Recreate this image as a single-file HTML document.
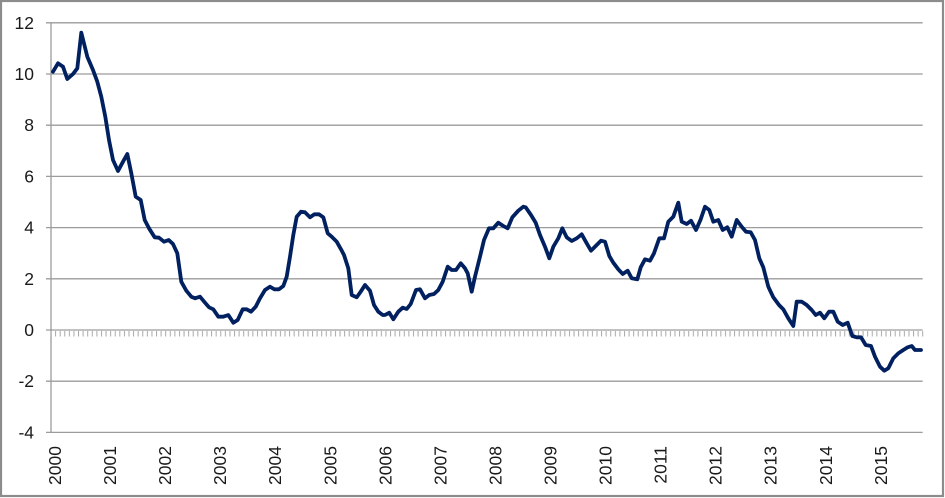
<!DOCTYPE html>
<html>
<head>
<meta charset="utf-8">
<style>
  html, body { margin: 0; padding: 0; background: #ffffff; }
  body { width: 945px; height: 498px; overflow: hidden; }
  svg { display: block; }
  text { font-family: "Liberation Sans", "DejaVu Sans", sans-serif; font-size: 17.5px; fill: #1a1a1a; }
</style>
</head>
<body>
<svg width="945" height="498" viewBox="0 0 945 498" xmlns="http://www.w3.org/2000/svg">
  <defs>
    <pattern id="ticks" patternUnits="userSpaceOnUse" x="50.5" y="331" width="4.588" height="6">
      <rect x="0" y="0" width="1" height="6" fill="#a8a8a8"/>
    </pattern>
  </defs>
  <rect x="0" y="0" width="945" height="498" fill="#ffffff"/>
  <!-- outer frame -->
  <rect x="1" y="1" width="942" height="495" fill="none" stroke="#8c8c8c" stroke-width="2.2"/>

  <!-- gridlines -->
  <g stroke="#9c9c9c" stroke-width="1.3">
    <line x1="46" y1="22.8" x2="922.7" y2="22.8"/>
    <line x1="46" y1="74" x2="922.7" y2="74"/>
    <line x1="46" y1="125.2" x2="922.7" y2="125.2"/>
    <line x1="46" y1="176.4" x2="922.7" y2="176.4"/>
    <line x1="46" y1="227.6" x2="922.7" y2="227.6"/>
    <line x1="46" y1="278.8" x2="922.7" y2="278.8"/>
    <line x1="46" y1="330" x2="922.7" y2="330"/>
    <line x1="46" y1="381.2" x2="922.7" y2="381.2"/>
    <line x1="46" y1="432.4" x2="922.7" y2="432.4"/>
    <line x1="51" y1="22.8" x2="51" y2="432.4"/>
  </g>
  <!-- category ticks on zero axis -->
  <rect x="50.5" y="331" width="873" height="5.5" fill="url(#ticks)"/>

  <!-- y labels -->
  <g text-anchor="end" dominant-baseline="central">
    <text x="34" y="22.8">12</text>
    <text x="34" y="74">10</text>
    <text x="34" y="125.2">8</text>
    <text x="34" y="176.4">6</text>
    <text x="34" y="227.6">4</text>
    <text x="34" y="278.8">2</text>
    <text x="34" y="330">0</text>
    <text x="34" y="381.2">-2</text>
    <text x="34" y="432.4">-4</text>
  </g>

  <!-- x labels (rotated) -->
  <g text-anchor="end" dominant-baseline="central">
    <text x="55" y="446" transform="rotate(-90 55 446)">2000</text>
    <text x="110.05" y="446" transform="rotate(-90 110.05 446)">2001</text>
    <text x="165.1" y="446" transform="rotate(-90 165.1 446)">2002</text>
    <text x="220.2" y="446" transform="rotate(-90 220.2 446)">2003</text>
    <text x="275.2" y="446" transform="rotate(-90 275.2 446)">2004</text>
    <text x="330.3" y="446" transform="rotate(-90 330.3 446)">2005</text>
    <text x="385.3" y="446" transform="rotate(-90 385.3 446)">2006</text>
    <text x="440.4" y="446" transform="rotate(-90 440.4 446)">2007</text>
    <text x="495.4" y="446" transform="rotate(-90 495.4 446)">2008</text>
    <text x="550.5" y="446" transform="rotate(-90 550.5 446)">2009</text>
    <text x="605.6" y="446" transform="rotate(-90 605.6 446)">2010</text>
    <text x="660.6" y="446" transform="rotate(-90 660.6 446)">2011</text>
    <text x="715.7" y="446" transform="rotate(-90 715.7 446)">2012</text>
    <text x="770.7" y="446" transform="rotate(-90 770.7 446)">2013</text>
    <text x="825.8" y="446" transform="rotate(-90 825.8 446)">2014</text>
    <text x="880.8" y="446" transform="rotate(-90 880.8 446)">2015</text>
  </g>

  <!-- data series -->
  <polyline fill="none" stroke="#002060" stroke-width="3.8" stroke-linejoin="round" stroke-linecap="round"
    points="53,71.7 58,63.3 63,66.7 67.3,79 73,74 77.3,68.3 81.3,32.7 87.3,56.7 93,70 97.3,81.7 101.3,96.7 105.3,116.7 109,140 113,160 118,171 123,161.7 127.3,154 131.3,173.3 135.7,196.7 140.7,200 144.7,220 149,228.3 154.7,237.3 159,237.7 164,241.7 168.7,240 173,244 177.3,253.3 181.3,281.7 186.3,290.7 191.3,296.7 195,298.3 200,296.7 205,302.7 209,307.3 213.3,309.3 218.3,316.7 223.3,316.7 228.3,315 233.3,322.7 237.7,320 242.7,309.3 246.7,309.3 251,311.7 255.7,306.7 260,298.3 265,290 270,286.7 274.3,289.3 279,289.3 283.3,286 286.7,276.7 290,256.7 293.3,235 296.7,216.7 301,211.7 305,212.3 310,217.3 314.3,214.3 319,214.3 323.3,217.3 327.7,233.3 331.7,236.7 336.7,241.7 341,249.3 344,255 348.3,268.3 351.7,295 356.7,297.3 360.7,291.7 365,285 370,290.7 374,305 378.3,311.7 382.7,315 385,315 389.3,312.7 393.3,319.3 398.3,311.7 402.7,307.7 406.7,309 410.7,304 416,290 420,289.3 425,298.3 429.3,295 434,294 438.3,290 442.7,281.7 447.7,266.7 451.7,270 456,270 460.7,263.3 465,268.3 467.7,273.3 471.7,291.7 475,276.7 480,256.7 484,240 489,228.3 493.3,228.3 498.3,222.7 503.3,226 507.7,228.3 512.3,217.3 518.3,210.7 523.3,206.7 525.7,207.3 531,215 535.7,222.7 540,235 545,246.7 549.3,258.3 553.3,246.7 558.3,238.3 562.3,228.3 566.7,237.3 571.7,241 576.7,238.3 581.7,234.3 586.7,243.3 591,250.7 595.7,246 601,240.7 605,241.7 609.3,256 613.3,262.7 618.3,269.3 622.7,274 627.7,270.7 631.7,278.3 637.3,279.3 640.7,267.3 645,259.3 650,260.7 654,253.3 659.3,238.3 664,238.3 668.3,221.7 673.3,216.7 678.3,202.7 681.7,221.7 686.7,224 691,220.7 696,230 700.7,219.3 705,206.7 709.3,210 713.3,221.7 718.3,220 722.7,230 727.3,227.3 731.7,236.7 736.7,220 741.7,226.7 746,231.7 750.7,232.3 755,240 759.3,258.3 763.3,267.3 768.3,286.7 773.3,297.3 779,305 783.3,309.3 788.3,318.3 793.3,326 796.7,301.7 801.7,301.7 806.7,305 811.7,310 815.7,315 820,312.7 824.3,318.3 829,311.7 833.3,311.7 837.7,321.7 842.7,325 847.7,322.7 852.3,336 856.7,337.3 861,337.3 865.7,345 871,346 875,356.7 880,366.7 884.3,370.7 888.3,368.3 893.3,358.3 898.3,353.3 903.3,350 907.7,347.3 911.7,346 915,350 921,350"/>
</svg>
</body>
</html>
